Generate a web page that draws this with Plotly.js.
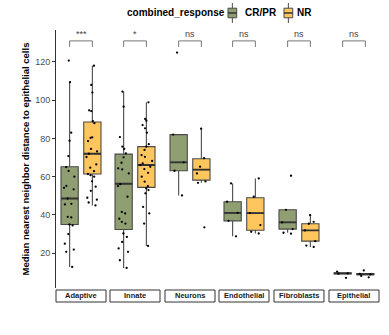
<!DOCTYPE html>
<html><head><meta charset="utf-8">
<script src="https://cdn.plot.ly/plotly-3.0.1.min.js"></script>
<style>html,body{margin:0;padding:0;background:#fff}#chart{width:389px;height:335px}</style>
</head><body><div id="chart"></div>
<script>
const facets = ['Adaptive','Innate','Neurons','Endothelial','Fibroblasts','Epithelial'];
const groups = ['CR/PR','NR'];
const sigLabels = ['***','*','ns','ns','ns','ns'];

// box statistics
const crprQ1  = [35.0, 32.4, 63.1, 36.9, 32.6, 9.1];
const crprMed = [48.6, 56.3, 67.5, 41.1, 36.1, 9.4];
const crprQ3  = [65.2, 71.8, 82.0, 46.9, 42.7, 9.7];
const crprLo  = [12.8, 12.3, 50.2, 28.8, 30.7, 8.9];
const crprHi  = [109.4, 104.5, 82.0, 56.5, 42.7, 10.0];

const nrQ1  = [61.4, 54.4, 58.2, 32.0, 26.3, 8.7];
const nrMed = [72.0, 66.1, 63.7, 41.0, 31.9, 9.0];
const nrQ3  = [88.6, 75.7, 69.4, 49.0, 35.4, 9.3];
const nrLo  = [45.0, 23.8, 56.8, 30.3, 23.3, 8.5];
const nrHi  = [118.0, 98.9, 85.1, 59.1, 39.9, 9.6];

// individual samples (jittered points)
const crprPoints = [
  [120.7,109.4,83,78.8,70.8,65,63,60,55.2,54.2,53.4,48.6,45.8,45.5,39,38.7,35,34.5,30,25,21.9,20.7,12.8],
  [104.5,96.6,80.7,75.7,74.5,72.2,70.1,67.3,64.4,63.8,61.7,56.1,55.1,49.5,41.6,40.8,38,36.4,35.5,30.3,28.5,25.9,22.5,20.7,16.3,12.3],
  [124.9,82,67.5,63.1,50.2],
  [56.5,46.9,41.1,36.9,28.8],
  [60.5,42.7,36.1,32.6,30.7,30.2],
  [10.4,9.4,9.3,7.1]
];
const nrPoints = [
  [118,108,104,94.7,94.3,89,88,80.6,80.3,78.6,74.5,73.2,72,70.3,66.4,64.7,62.9,61.4,60.8,60,57.6,54.8,52.6,49,48,46.5,45],
  [98.9,90.2,89.3,87,85.3,83,77,75.7,74,71.3,70.4,68.2,67,66.1,65.2,64,62,60,57.4,55,53.9,53,51.3,44.2,40.8,35.5,23.8],
  [85.1,69.7,65.2,61.7,57.5,56.8,33.5],
  [59.1,49.5,41,34.7,31.2,30.3],
  [39.9,36.4,35.4,31.9,26.3,24.0,23.3],
  [11.0,9.2,8.9,8.1,7.4]
];

const colors = {'CR/PR':'#8f9f72','NR':'#ffc65e'};
const boxLine = '#4a4a4a';
const font = 'Liberation Sans, Arial, sans-serif';

const starts = [0, 0.1672, 0.3375, 0.5046, 0.6749, 0.8452];
const fw = 0.1548;

const traces = [];
const layout = {
  width: 389, height: 335,
  margin: {l:56, r:10, t:30, b:47},
  paper_bgcolor:'#fff', plot_bgcolor:'#fff',
  font: {family: font, color:'#000'},
  boxmode:'overlay',
  showlegend:false,
  yaxis: {
    range:[1.8, 136.7], tickvals:[20,40,60,80,100,120], showgrid:false, zeroline:false,
    showline:true, linecolor:'#333', linewidth:1, ticks:'outside', ticklen:3, tickcolor:'#333',
    tickfont:{size:9, color:'#4d4d4d', family:font},
    title:{text:'Median nearest neighbor distance to epithelial cells', font:{size:9.5, weight:'bold', family:font, color:'#000'}, standoff:3},
    anchor:'x'
  },
  shapes: [], annotations: []
};

facets.forEach((f, i) => {
  const k = i === 0 ? '' : String(i+1);
  const xa = 'x' + k;
  layout['xaxis' + k] = {
    domain:[starts[i], starts[i]+fw], type:'category', categoryarray:groups,
    range:[-0.6, 1.6], showticklabels:false, ticks:'', showline:false, showgrid:false,
    zeroline:false, anchor:'y', fixedrange:true
  };
  const stats = [
    ['CR/PR', crprQ1, crprMed, crprQ3, crprLo, crprHi],
    ['NR', nrQ1, nrMed, nrQ3, nrLo, nrHi]
  ];
  stats.forEach(s => {
    traces.push({
      type:'box', name:s[0], legendgroup:s[0],
      x:[s[0]], q1:[s[1][i]], median:[s[2][i]], q3:[s[3][i]],
      lowerfence:[s[4][i]], upperfence:[s[5][i]],
      xaxis:xa, yaxis:'y', width:0.76, whiskerwidth:0,
      fillcolor:colors[s[0]], line:{color:boxLine, width:1.1}, boxpoints:false
    });
    // thicker median bar (ggplot fatten)
    traces.push({
      type:'box', name:s[0], legendgroup:s[0],
      x:[s[0]], q1:[s[2][i]], median:[s[2][i]], q3:[s[2][i]],
      lowerfence:[s[2][i]], upperfence:[s[2][i]],
      xaxis:xa, yaxis:'y', width:0.76, whiskerwidth:0,
      fillcolor:'rgba(0,0,0,0)', line:{color:'#333', width:1.8}, boxpoints:false
    });
  });
  [['CR/PR', crprPoints], ['NR', nrPoints]].forEach(p => {
    traces.push({
      type:'box', name:p[0], legendgroup:p[0],
      x:p[1][i].map(() => p[0]), y:p[1][i], xaxis:xa, yaxis:'y',
      width:0.76, boxpoints:'all', jitter:0.75, pointpos:0,
      fillcolor:'rgba(0,0,0,0)', line:{color:'rgba(0,0,0,0)', width:0},
      marker:{color:'#000', size:2.3}, whiskerwidth:0
    });
  });
  // significance bracket
  layout.shapes.push({type:'line', xref:xa, yref:'y', x0:0, x1:1, y0:131, y1:131, line:{color:'#777', width:1}});
  layout.shapes.push({type:'line', xref:xa, yref:'y', x0:0, x1:0, y0:131, y1:127.8, line:{color:'#777', width:1}});
  layout.shapes.push({type:'line', xref:xa, yref:'y', x0:1, x1:1, y0:131, y1:127.8, line:{color:'#777', width:1}});
  layout.annotations.push({xref:xa, yref:'y', x:0.5, y:131, yanchor:'bottom', showarrow:false,
    text:sigLabels[i], font:{size:9, color:'#444', family:font}, yshift:0});
  // strip at the bottom
  layout.shapes.push({type:'rect', xref:'paper', yref:'paper', x0:starts[i], x1:starts[i]+fw,
    y0:-0.0078, y1:-0.0543, line:{color:'#333', width:1}, fillcolor:'#fff'});
  layout.annotations.push({xref:'paper', yref:'paper', x:starts[i]+fw/2, y:-0.031, yanchor:'middle',
    xanchor:'center', showarrow:false, text:f, font:{size:7.5, weight:'bold', color:'#1a1a1a', family:font}});
});

// legend (drawn as ggplot-style keys)
const legY = 1.0659, legH = 0.031;
layout.annotations.push({xref:'paper', yref:'paper', x:0.2136, y:legY, xanchor:'left', yanchor:'middle',
  showarrow:false, text:'combined_response', font:{size:10, weight:'bold', family:font}});
const legKeys = [['CR/PR', 0.5325, 0.579], ['NR', 0.7059, 0.740]];
legKeys.forEach(([g, kx, tx]) => {
  const kw = 0.027;
  layout.shapes.push({type:'line', xref:'paper', yref:'paper', x0:kx+kw/2, x1:kx+kw/2, y0:legY-legH*1.25, y1:legY+legH*1.25, line:{color:boxLine, width:1}});
  layout.shapes.push({type:'rect', xref:'paper', yref:'paper', x0:kx, x1:kx+kw, y0:legY-legH*0.6, y1:legY+legH*0.6, fillcolor:colors[g], line:{color:boxLine, width:1}});
  layout.shapes.push({type:'line', xref:'paper', yref:'paper', x0:kx, x1:kx+kw, y0:legY, y1:legY, line:{color:'#333', width:1.5}});
  layout.annotations.push({xref:'paper', yref:'paper', x:tx, y:legY, xanchor:'left', yanchor:'middle',
    showarrow:false, text:g, font:{size:10, weight:'bold', family:font}});
});

Plotly.newPlot('chart', traces, layout, {displayModeBar:false, staticPlot:true});
</script></body></html>
